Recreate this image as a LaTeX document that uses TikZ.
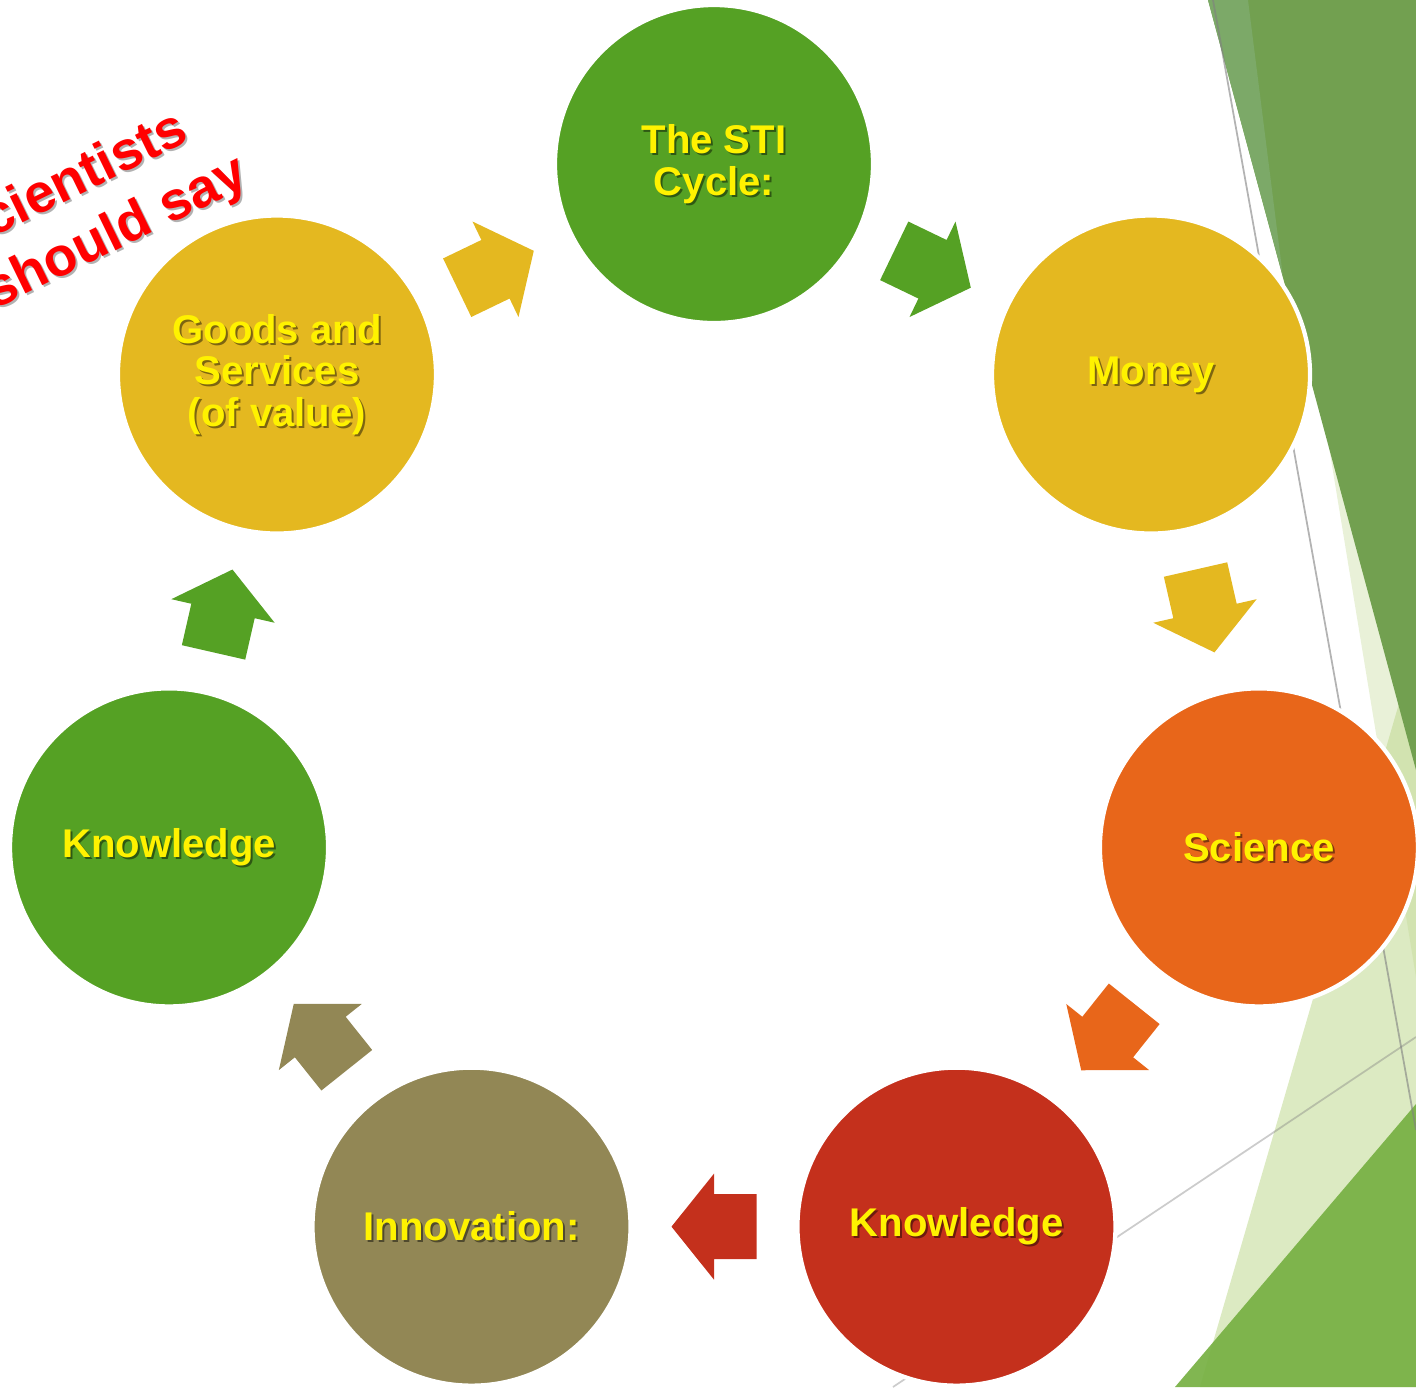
\documentclass[tikz,border=0pt]{standalone}
\usepackage{fontspec}
\setmainfont{Liberation Sans}
\usetikzlibrary{calc}

\definecolor{stigreen}{HTML}{55A124}
\definecolor{stigold}{HTML}{E4B820}
\definecolor{stiorange}{HTML}{E8661A}
\definecolor{stired}{HTML}{C4301C}
\definecolor{stiolive}{HTML}{928755}
\definecolor{facetdark}{HTML}{72A050}
\definecolor{facetstripe}{HTML}{7CA968}
\definecolor{facetpale}{HTML}{C0D890}
\definecolor{facetlight}{HTML}{DCEAC2}
\definecolor{facetmid}{HTML}{76B042}

\tikzset{
	bubble/.style={circle, minimum size=3.18cm, inner sep=0pt, draw=white, line width=1.2pt},
	bubtext/.style={text=yellow, font=\fontsize{11.4}{11.8}\selectfont\bfseries, align=center},
	bubshade/.style={bubtext, text=black, text opacity=0.45},
	redtext/.style={text=red, font=\fontsize{15.5}{18}\selectfont\bfseries, rotate=26, anchor=base east},
	redshade/.style={redtext, text=black, text opacity=0.3},
	pics/blockarrow/.style={code={
		\fill (-0.425,-0.325) -- (0,-0.325) -- (0,-0.53) -- (0.425,0)
			-- (0,0.53) -- (0,0.325) -- (-0.425,0.325) -- cycle;}}
}

\begin{document}
\begin{tikzpicture}
	\useasboundingbox (0,0) rectangle (14.16,-13.87);
	% slide background
	\fill[facetlight] (12.00,-13.87) -- (14.16,-6.45) -- (14.16,-13.87) -- cycle;
	\fill[facetpale, opacity=0.35] (13.29,-4.47) -- (14.16,-9.77) -- (14.16,-4.47) -- cycle;
	\fill[facetdark] (12.08,0) -- (14.16,0) -- (14.16,-7.70) -- cycle;
	\fill[facetstripe] (12.08,0) -- (12.48,0) -- (12.83,-2.77) -- cycle;
	\fill[facetmid, opacity=0.92] (11.75,-13.87) -- (14.16,-11.04) -- (14.16,-13.87) -- cycle;
	\draw[gray, opacity=0.6, line width=0.5pt] (12.13,0) -- (14.16,-11.30);
	\draw[gray, opacity=0.4, line width=0.5pt] (8.93,-13.87) -- (14.16,-10.37);
	% the cycle
	\begin{scope}[shift={(7.14,-7.23)}]
		\foreach \A/\C/\T [count=\Z] in {90/stigreen/{The STI\\Cycle:},
			38.57/stigold/Money, -12.86/stiorange/Science, -64.29/stired/Knowledge,
			-115.71/stiolive/Innovation:, -167.14/stigreen/Knowledge,
			141.43/stigold/{Goods and\\Services\\(of value)}}
		{
			\node[bubble, fill=\C] (c\Z) at (\A:5.59) {};
			\node[bubshade] (s\Z) at ($(c\Z)+(0.02,-0.02)$) {\T};
			\node[bubtext] (t\Z) at (c\Z) {\T};
		}
	\end{scope}
	\foreach \P/\Q/\C in {1/2/stigreen, 2/3/stigold, 3/4/stiorange, 4/5/stired,
		5/6/stiolive, 6/7/stigreen, 7/1/stigold}
	\path (c\P) -- (c\Q) pic[pos=0.5, sloped, allow upside down, fill=\C] {blockarrow};
	% red remark, cut by the slide edge
	\node[redshade] (rs1) at (2.04,-1.37) {cientists};
	\node[redtext] (r1) at (2.02,-1.35) {cientists};
	\node[redshade] (rs2) at (2.64,-1.81) {should say};
	\node[redtext] (r2) at (2.62,-1.79) {should say};
\end{tikzpicture}
\end{document}
